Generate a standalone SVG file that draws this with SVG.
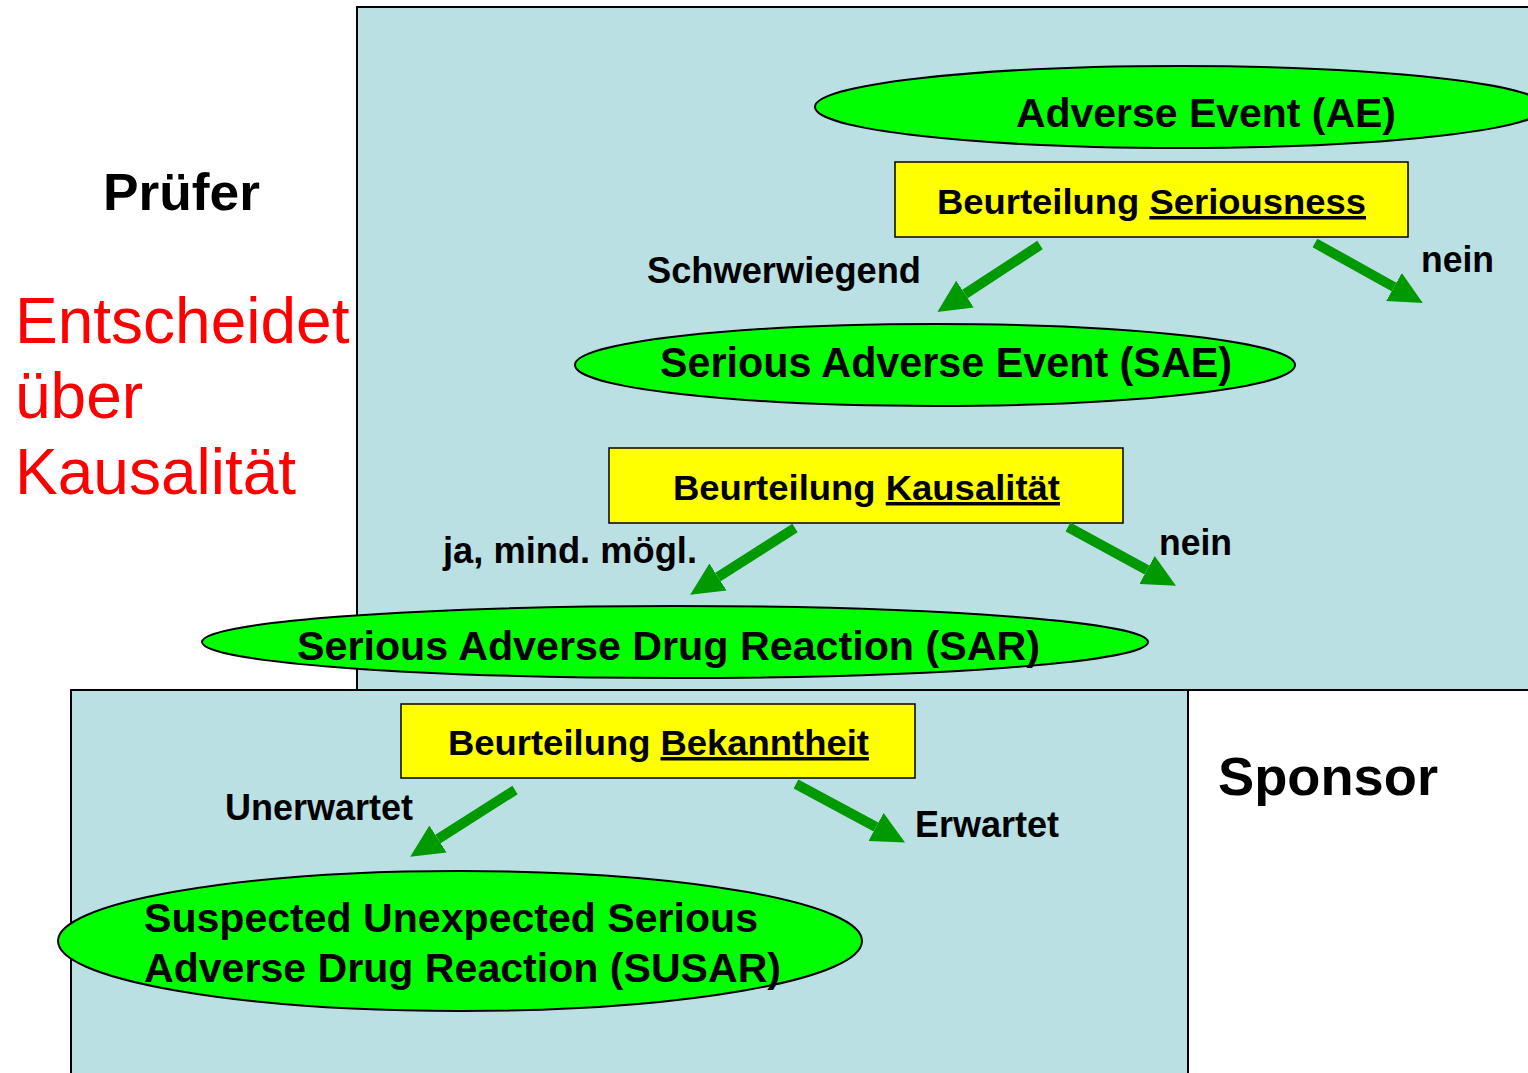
<svg xmlns="http://www.w3.org/2000/svg" width="1528" height="1073" viewBox="0 0 1528 1073">
<defs>
<style>
.panel{fill:#BBE0E3;stroke:#000;stroke-width:2}
.ell{fill:#00FF00;stroke:#000;stroke-width:2}
.box{fill:#FFFF00;stroke:#000;stroke-width:1.5}
.t{font-family:"Liberation Sans",Arial,sans-serif;font-weight:bold;fill:#000}
.red{font-family:"Liberation Sans",Arial,sans-serif;fill:#FF0000;font-size:64px}
.conn{stroke:#009900;stroke-width:10;fill:none;marker-end:url(#ah)}
</style>
<marker id="ah" markerUnits="userSpaceOnUse" markerWidth="34" markerHeight="32" refX="0" refY="16" orient="auto">
<path d="M0,0 L33,16 L0,32 z" fill="#009900"/>
</marker>
</defs>
<rect width="1528" height="1073" fill="#fff"/>
<g id="panel-pruefer"><rect class="panel" x="357" y="7" width="1190" height="683"/></g>
<g id="panel-sponsor"><rect class="panel" x="71" y="690" width="1117" height="400"/></g>

<g id="label-pruefer"><text class="t" x="103" y="210" font-size="52" textLength="157" lengthAdjust="spacingAndGlyphs">Prüfer</text></g>
<g id="label-entscheidet">
<text class="red" x="15" y="343">Entscheidet</text>
<text class="red" x="15" y="418">über</text>
<text class="red" x="15" y="494">Kausalität</text>
</g>
<g id="label-sponsor"><text class="t" x="1218" y="795" font-size="53" textLength="220" lengthAdjust="spacingAndGlyphs">Sponsor</text></g>

<g id="ae"><ellipse class="ell" cx="1180" cy="107" rx="365" ry="41"/>
<text class="t" x="1016" y="127" font-size="41" textLength="380" lengthAdjust="spacingAndGlyphs">Adverse Event (AE)</text></g>

<g id="beurteilung-seriousness"><rect class="box" x="895" y="162" width="513" height="75"/>
<text class="t" x="937" y="214" font-size="35" textLength="429" lengthAdjust="spacingAndGlyphs">Beurteilung <tspan text-decoration="underline">Seriousness</tspan></text></g>

<g id="sae"><ellipse class="ell" cx="935" cy="365" rx="360" ry="41"/>
<text class="t" x="660" y="377" font-size="42" textLength="572" lengthAdjust="spacingAndGlyphs">Serious Adverse Event (SAE)</text></g>

<g id="beurteilung-kausalitaet"><rect class="box" x="609" y="448" width="514" height="75"/>
<text class="t" x="673" y="500" font-size="35" textLength="387" lengthAdjust="spacingAndGlyphs">Beurteilung <tspan text-decoration="underline">Kausalität</tspan></text></g>

<g id="sar"><ellipse class="ell" cx="675" cy="642" rx="473" ry="36"/>
<text class="t" x="297" y="660" font-size="41" textLength="743" lengthAdjust="spacingAndGlyphs">Serious Adverse Drug Reaction (SAR)</text></g>

<g id="beurteilung-bekanntheit"><rect class="box" x="401" y="704" width="514" height="74"/>
<text class="t" x="448" y="755" font-size="35" textLength="421" lengthAdjust="spacingAndGlyphs">Beurteilung <tspan text-decoration="underline">Bekanntheit</tspan></text></g>

<g id="susar"><ellipse class="ell" cx="460" cy="941" rx="402" ry="70"/>
<text class="t" x="144" y="932" font-size="41" textLength="614" lengthAdjust="spacingAndGlyphs">Suspected Unexpected Serious</text>
<text class="t" x="144" y="982" font-size="41" textLength="637" lengthAdjust="spacingAndGlyphs">Adverse Drug Reaction (SUSAR)</text></g>

<g id="connectors">
<line class="conn" x1="1040" y1="245" x2="965" y2="294"/>
<line class="conn" x1="1315" y1="243" x2="1394" y2="287"/>
<line class="conn" x1="795" y1="528" x2="718" y2="577"/>
<line class="conn" x1="1068" y1="527" x2="1147" y2="570"/>
<line class="conn" x1="515" y1="790" x2="438" y2="839"/>
<line class="conn" x1="796" y1="784" x2="876" y2="827"/>
</g>

<g id="connector-labels">
<text class="t" x="647" y="283" font-size="36" textLength="274" lengthAdjust="spacingAndGlyphs">Schwerwiegend</text>
<text class="t" x="1421" y="272" font-size="36" textLength="73" lengthAdjust="spacingAndGlyphs">nein</text>
<text class="t" x="443" y="563" font-size="36" textLength="254" lengthAdjust="spacingAndGlyphs">ja, mind. mögl.</text>
<text class="t" x="1159" y="555" font-size="36" textLength="73" lengthAdjust="spacingAndGlyphs">nein</text>
<text class="t" x="225" y="820" font-size="36" textLength="188" lengthAdjust="spacingAndGlyphs">Unerwartet</text>
<text class="t" x="915" y="837" font-size="36" textLength="144" lengthAdjust="spacingAndGlyphs">Erwartet</text>
</g>
</svg>
